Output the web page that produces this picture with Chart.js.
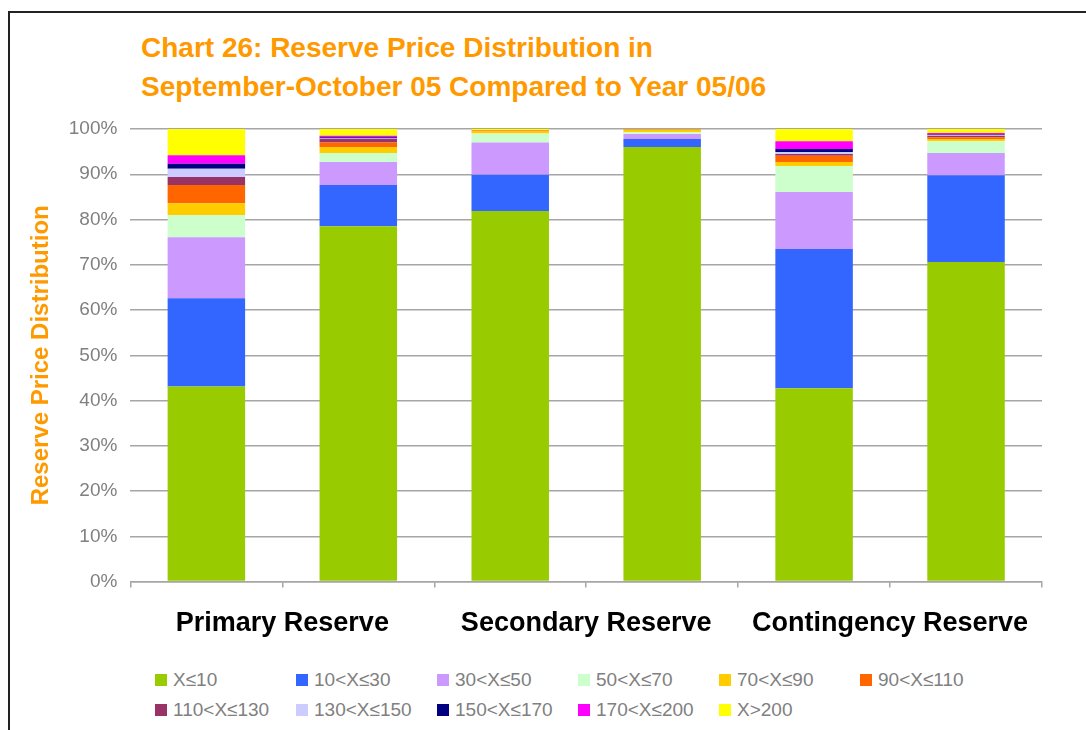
<!DOCTYPE html>
<html>
<head>
<meta charset="utf-8">
<script src="https://cdn.jsdelivr.net/npm/chart.js@4/dist/chart.umd.min.js"></script>
<style>
  html, body { margin: 0; padding: 0; background: #fff; }
  body { width: 1086px; height: 730px; position: relative; overflow: hidden; font-family: "Liberation Sans", Arial, sans-serif; }
  #frame { position: absolute; left: 8px; top: 11px; width: 1200px; height: 800px; border-left: 2px solid #222; border-top: 2px solid #222; }
  #title { position: absolute; left: 141px; top: 28px; color: #FF9900; font-weight: bold; font-size: 28px; line-height: 39px; }
  #wrap { position: absolute; left: 0; top: 0; width: 1086px; height: 660px; }
  #legend { position: absolute; left: 155px; top: 668px; display: grid; grid-template-columns: repeat(6, 141px); row-gap: 6px; }
  .item { display: flex; align-items: center; height: 24px; color: #808080; font-size: 19px; white-space: nowrap; }
  .box { width: 12px; height: 12px; margin-right: 6px; flex: none; }
</style>
</head>
<body>
<div id="frame"></div>
<div id="title">Chart 26: Reserve Price Distribution in<br>September-October 05 Compared to Year 05/06</div>
<div id="wrap"><canvas id="chart"></canvas></div>
<div id="legend"></div>
<script>
// === Data ===
const bars = ["Primary Sep-Oct 05", "Primary 05/06", "Secondary Sep-Oct 05", "Secondary 05/06", "Contingency Sep-Oct 05", "Contingency 05/06"];
const groups = ["Primary Reserve", "Secondary Reserve", "Contingency Reserve"];
const yTicks = [0, 10, 20, 30, 40, 50, 60, 70, 80, 90, 100];

const xLe10   = [43.1, 78.5, 81.9, 96.0, 42.7, 70.6];
const x10_30  = [19.5, 9.1, 8.0, 1.8, 30.8, 19.2];
const x30_50  = [13.5, 5.1, 7.1, 1.1, 12.6, 4.9];
const x50_70  = [4.9, 2.0, 2.0, 0.4, 5.7, 2.6];
const x70_90  = [2.6, 1.3, 0.6, 0.5, 0.9, 0.5];
const x90_110 = [4.0, 1.0, 0.2, 0.1, 1.4, 0.4];
const x110_130 = [1.8, 0.8, 0, 0, 0.4, 0.3];
const x130_150 = [1.8, 0.1, 0, 0, 0.4, 0.2];
const x150_170 = [1.1, 0.3, 0, 0, 0.7, 0.1];
const x170_200 = [1.9, 0.3, 0, 0, 1.7, 0.3];
const xGt200  = [5.8, 1.5, 0.2, 0.1, 2.7, 0.9];

const series = [
  ["X≤10", xLe10, "#99CC00"],
  ["10<X≤30", x10_30, "#3366FF"],
  ["30<X≤50", x30_50, "#CC99FF"],
  ["50<X≤70", x50_70, "#CCFFCC"],
  ["70<X≤90", x70_90, "#FFCC00"],
  ["90<X≤110", x90_110, "#FF6600"],
  ["110<X≤130", x110_130, "#993366"],
  ["130<X≤150", x130_150, "#CCCCFF"],
  ["150<X≤170", x150_170, "#000080"],
  ["170<X≤200", x170_200, "#FF00FF"],
  ["X>200", xGt200, "#FFFF00"]
];

// === Legend ===
const legend = document.getElementById("legend");
series.forEach(([name, , color]) => {
  const item = document.createElement("div");
  item.className = "item";
  const box = document.createElement("span");
  box.className = "box";
  box.style.background = color;
  const txt = document.createElement("span");
  txt.textContent = name;
  item.append(box, txt);
  legend.appendChild(item);
});

// === Chart ===
const gridColor = "#a6a6a6";
new Chart(document.getElementById("chart").getContext("2d"), {
  type: "bar",
  data: {
    labels: bars,
    datasets: series.map(([name, data, color]) => ({
      label: name,
      data: data,
      backgroundColor: color,
      borderWidth: 0,
      barPercentage: 0.51,
      categoryPercentage: 1,
      xAxisID: "x"
    }))
  },
  options: {
    responsive: true,
    maintainAspectRatio: false,
    animation: false,
    layout: { padding: { left: 27, right: 44, top: 129, bottom: 0 } },
    plugins: { legend: { display: false }, tooltip: { enabled: false }, title: { display: false } },
    scales: {
      x: {
        stacked: true,
        offset: true,
        ticks: { display: false },
        grid: { offset: true, drawOnChartArea: false, tickLength: 6, color: gridColor, lineWidth: 1.5 },
        border: { color: gridColor, width: 1.5 }
      },
      x2: {
        type: "category",
        labels: groups,
        position: "bottom",
        offset: true,
        grid: { display: false, drawTicks: false },
        border: { display: false },
        ticks: { color: "#000", padding: 20, font: { family: "Liberation Sans", size: 27, weight: "bold" } }
      },
      y: {
        stacked: true,
        min: 0,
        max: 100,
        afterBuildTicks: (axis) => { axis.ticks = yTicks.map(v => ({ value: v })); },
        ticks: { color: "#808080", padding: 13, font: { family: "Liberation Sans", size: 19 }, callback: (v) => v + "%" },
        grid: { color: gridColor, lineWidth: 1.5, drawTicks: false },
        border: { display: false },
        title: {
          display: true,
          text: "Reserve Price Distribution",
          color: "#FF9900",
          padding: { top: 0, bottom: 0 },
          font: { family: "Liberation Sans", size: 24, weight: "bold" }
        }
      }
    }
  }
});
</script>
</body>
</html>
